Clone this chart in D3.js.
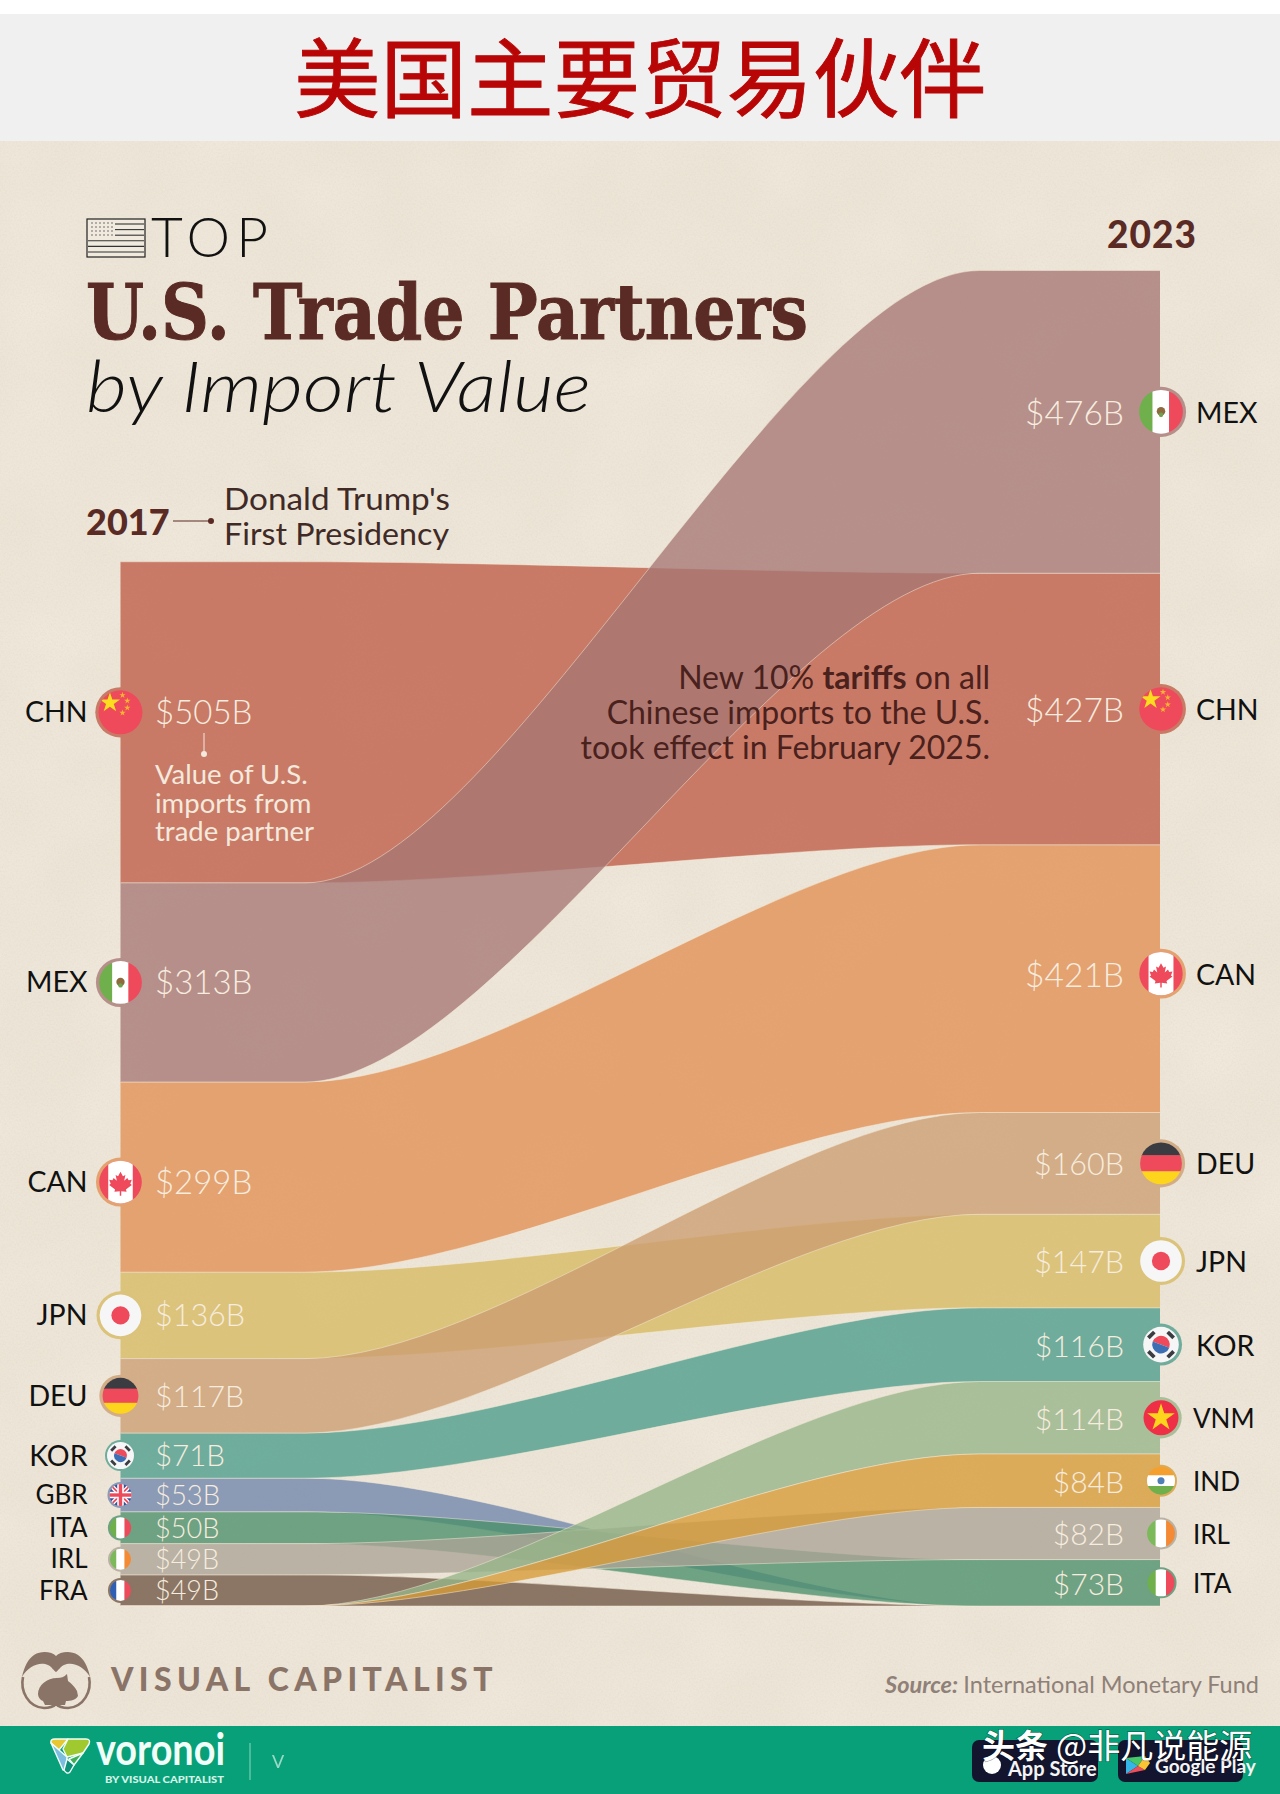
<!DOCTYPE html>
<html><head><meta charset="utf-8">
<script src="https://cdn.jsdelivr.net/npm/d3@7/dist/d3.min.js"></script>
<style>html,body{margin:0;padding:0;background:#fff}svg{display:block}text{font-family:Lato,sans-serif}</style>
</head><body><svg id="c" width="1280" height="1794" viewBox="0 0 1280 1794"></svg>
<script>
// ---- data (US$ billions) ----
const codes2017 = ["CHN","MEX","CAN","JPN","DEU","KOR","GBR","ITA","IRL","FRA","VNM","IND"];
const values2017 = [505,313,299,136,117,71,53,50,49,49,0,0];
const codes2023 = ["MEX","CHN","CAN","DEU","JPN","KOR","VNM","IND","IRL","ITA","GBR","FRA"];
const values2023 = [476,427,421,160,147,116,114,84,82,73,0,0];
const paintOrder = ["FRA","GBR","ITA","IRL","VNM","IND","KOR","JPN","DEU","CAN","CHN","MEX"];
const bandCodes = ["CHN","MEX","CAN","JPN","DEU","KOR","GBR","ITA","IRL","FRA","VNM","IND"];
const bandColors = ["#c97a66","#b68f8a","#e4a270","#dcc37b","#d3ad87","#6fac9c","#8b9ab5","#6ea282","#bab2a4","#8b7564","#a9bf99","#dcab5a"];
const titleZh = "美国主要贸易伙伴";

const svg = d3.select("#c");
const defs = svg.append("defs");
const paper = d3.rgb(236,228,214), bandAlpha = 0.78;
const colorOf = d3.scaleOrdinal(bandCodes, bandColors);
const solid = c => { const d = d3.rgb(c), f = k => (d[k]-(1-bandAlpha)*paper[k])/bandAlpha; return d3.rgb(f("r"),f("g"),f("b")).formatHex(); };

// backgrounds
svg.append("rect").attr("width",1280).attr("height",1794).attr("fill","#fff");
svg.append("rect").attr("y",14).attr("width",1280).attr("height",128).attr("fill","#f0f0f0");
svg.append("rect").attr("y",141).attr("width",1280).attr("height",1586).attr("fill",paper.formatHex());
const grain = defs.append("filter").attr("id","grain").attr("x",0).attr("y",0).attr("width","100%").attr("height","100%");
grain.append("feTurbulence").attr("type","fractalNoise").attr("baseFrequency",0.55).attr("numOctaves",3).attr("seed",7);
grain.append("feColorMatrix").attr("values","0 0 0 0 0.45  0 0 0 0 0.38  0 0 0 0 0.28  0.55 0 0 0 -0.22");
const cloud = defs.append("filter").attr("id","cloud").attr("x",0).attr("y",0).attr("width","100%").attr("height","100%");
cloud.append("feTurbulence").attr("type","fractalNoise").attr("baseFrequency",0.012).attr("numOctaves",2).attr("seed",3);
cloud.append("feColorMatrix").attr("values","0 0 0 0 1  0 0 0 0 0.98  0 0 0 0 0.92  0 1.1 0 0 -0.35");
svg.append("rect").attr("y",141).attr("width",1280).attr("height",1586).attr("filter","url(#cloud)").attr("opacity",.25);
svg.append("rect").attr("y",141).attr("width",1280).attr("height",1586).attr("filter","url(#grain)").attr("opacity",.3);

// top title
svg.append("text").attr("x",640).attr("y",111).attr("text-anchor","middle").attr("fill","#b80606").attr("stroke","#b80606").attr("stroke-width",.9)
  .style("font-family","'Noto Sans CJK SC'").style("font-weight",400).style("font-size","86.5px").text(titleZh);

// ---- scales ----
const x = d3.scaleLinear([2017,2023],[120.5,1160]);
const y = d3.scaleLinear([0,2100],[1606,270.5]);
const curveFrom = 2018.065, curveTo = 2021.96, tension = 0.28;
const stackOf = (codes, vals) => {
  const m = new Map(); let below = d3.sum(vals);
  codes.forEach((c,i)=>{ const top = below; below -= vals[i]; m.set(c,{v:vals[i],top:y(top),bot:y(below),mid:(y(top)+y(below))/2}); });
  return m;
};
const s17 = stackOf(codes2017,values2017), s23 = stackOf(codes2023,values2023);
const ctrl = () => { const x0=x(curveFrom), x1=x(curveTo), w=x1-x0; return {x0,x1,c0:x0+w*tension,c1:x1-w*tension}; };
const edge = (p,a,b,move) => {
  const {x0,x1,c0,c1}=ctrl();
  if(move) p.moveTo(x(2017),a); else p.lineTo(x(2017),a);
  p.lineTo(x0,a); p.bezierCurveTo(c0,a,c1,b,x1,b); p.lineTo(x(2023),b);
};
const edgeBack = (p,a,b) => {
  const {x0,x1,c0,c1}=ctrl();
  p.lineTo(x(2023),b); p.lineTo(x1,b); p.bezierCurveTo(c1,b,c0,a,x0,a); p.lineTo(x(2017),a);
};
const gBands = svg.append("g");
paintOrder.forEach(code=>{
  const a=s17.get(code), b=s23.get(code);
  const p=d3.path(); edge(p,a.top,b.top,true); edgeBack(p,a.bot,b.bot); p.closePath();
  gBands.append("path").attr("d",p.toString()).attr("fill",solid(colorOf(code))).attr("fill-opacity",bandAlpha);
  const t=d3.path(); edge(t,a.top,b.top,true);
  const u=d3.path(); edge(u,a.bot,b.bot,true);
  [t,u].forEach(q=>gBands.append("path").attr("d",q.toString()).attr("fill","none").attr("stroke","#f4ead8").attr("stroke-width",1).attr("stroke-opacity",.5));
});

// ---- flags (drawn in a unit circle, scaled to radius) ----
const rect=(g,x0,y0,w,h,f)=>g.append("rect").attr("x",x0).attr("y",y0).attr("width",w).attr("height",h).attr("fill",f);
const star=(g,cx,cy,size,f,rot=0)=>g.append("path").attr("d",d3.symbol(d3.symbolStar,size)()).attr("transform",`translate(${cx},${cy}) rotate(${rot})`).attr("fill",f);
const tri=(g,a,b,c)=>{rect(g,-1,-1,.72,2,a);rect(g,-.34,-1,.68,2,b);rect(g,.32,-1,.7,2,c);};
const RED="#ee4a5c",GRN="#6fb04c";
const flags={
  CHN:g=>{rect(g,-1,-1,2,2,RED);star(g,-.42,-.38,.2,"#fbdc1e");[[.08,-.68],[.27,-.46],[.27,-.18],[.08,.02]].forEach(d=>star(g,d[0],d[1],.02,"#f5b52e"));},
  MEX:g=>{tri(g,GRN,"#fff",RED);g.append("circle").attr("r",.17).attr("cy",-.02).attr("fill","#8d6b3f");g.append("circle").attr("r",.09).attr("cy",.12).attr("fill","#6fa04c");},
  CAN:g=>{rect(g,-1,-1,2,2,RED);rect(g,-.5,-1,1,2,"#fff");
    g.append("path").attr("d","M0,-.42 L.1,-.24 L.2,-.29 L.15,-.05 L.28,-.17 L.33,-.07 L.46,-.09 L.4,.07 L.46,.12 L.22,.3 L.25,.4 L.03,.37 L.03,.56 L-.03,.56 L-.03,.37 L-.25,.4 L-.22,.3 L-.46,.12 L-.4,.07 L-.46,-.09 L-.33,-.07 L-.28,-.17 L-.15,-.05 L-.2,-.29 L-.1,-.24 Z").attr("fill",RED);},
  JPN:g=>{rect(g,-1,-1,2,2,"#f6f6f6");g.append("circle").attr("r",.38).attr("fill",RED);},
  DEU:g=>{rect(g,-1,-1,2,.68,"#3b3c42");rect(g,-1,-.34,2,.68,RED);rect(g,-1,.33,2,.7,"#fcd51c");},
  KOR:g=>{rect(g,-1,-1,2,2,"#f6f6f6");
    g.append("path").attr("d","M-.42,0 A.42,.42 0 0 1 .42,0 Z").attr("fill",RED).attr("transform","rotate(20)");
    g.append("path").attr("d","M-.42,0 A.42,.42 0 0 0 .42,0 Z").attr("fill","#3d6fb5").attr("transform","rotate(20)");
    [45,135,225,315].forEach(a=>g.append("rect").attr("x",-.2).attr("y",-.74).attr("width",.4).attr("height",.18).attr("fill","#3b3c42").attr("transform",`rotate(${a})`));},
  GBR:g=>{rect(g,-1,-1,2,2,"#33509a");
    [[45,.34,"#fff"],[-45,.34,"#fff"],[45,.14,RED],[-45,.14,RED],[0,.5,"#fff"],[90,.5,"#fff"],[0,.26,RED],[90,.26,RED]].forEach(d=>g.append("rect").attr("x",-1.5).attr("y",-d[1]/2).attr("width",3).attr("height",d[1]).attr("fill",d[2]).attr("transform",`rotate(${d[0]})`));},
  ITA:g=>tri(g,GRN,"#fff",RED),
  IRL:g=>tri(g,"#7bb95a","#fff","#f58a35"),
  FRA:g=>tri(g,"#2f5fb5","#fff",RED),
  VNM:g=>{rect(g,-1,-1,2,2,"#ee2f45");star(g,0,0,.55,"#fcd51c");},
  IND:g=>{rect(g,-1,-1,2,.68,"#f5a02e");rect(g,-1,-.34,2,.68,"#fff");rect(g,-1,.33,2,.7,"#6fb04c");g.append("circle").attr("r",.22).attr("fill","#4f7fb5");}
};
const flagR=d3.scaleLinear([49,71,84,116,136,600],[12.5,15.5,16,21,24,25.5]).clamp(true);
const drawFlag=(code,v,cx,cy)=>{
  const r=flagR(v), id=`cl${code}${Math.round(cx)}`, inner=(r-(r>18?3.2:2))/r;
  defs.append("clipPath").attr("id",id).append("circle").attr("r",inner);
  const g=svg.append("g").attr("transform",`translate(${cx},${cy}) scale(${r})`);
  g.append("circle").attr("r",1).attr("fill",colorOf(code));
  flags[code](g.append("g").attr("clip-path",`url(#${id})`));
};

const valSize17=d3.scaleLinear([49,71,136,300],[27,29.5,30.5,33]).clamp(true);
const valSize23=d3.scaleLinear([73,160,421],[30,30.5,33.5]).clamp(true);
const codeSize17=d3.scaleThreshold([70],[26,28.5]);
const codeSize23=d3.scaleThreshold([115],[26,28.5]);
const fmt=v=>`$${v}B`;
const offset17={CHN:-10,CAN:5}, offset23={MEX:-10,CAN:-5};

codes2017.forEach((c,i)=>{
  const v=values2017[i]; if(!v) return;
  const cy=s17.get(c).mid+(offset17[c]||0), cx=x(2017);
  drawFlag(c,v,cx,cy);
  svg.append("text").attr("x",87.5).attr("y",cy).attr("dy",".35em").attr("text-anchor","end").attr("fill","#111").style("font-size",codeSize17(v)+"px").text(c);
  svg.append("text").attr("x",155).attr("y",cy).attr("dy",".36em").attr("fill","#f6ecdf").style("font-size",valSize17(v)+"px").style("font-weight",300).text(fmt(v));
});
codes2023.forEach((c,i)=>{
  const v=values2023[i]; if(!v) return;
  const cy=s23.get(c).mid+(offset23[c]||0), cx=x(2023)+1;
  drawFlag(c,v,cx,cy);
  svg.append("text").attr("x",v>=115?1196:1193).attr("y",cy+1).attr("dy",".35em").attr("fill","#111").style("font-size",codeSize23(v)+"px").text(c);
  svg.append("text").attr("x",1124).attr("y",cy+1).attr("dy",".36em").attr("text-anchor","end").attr("fill","#f6ecdf").style("font-size",valSize23(v)+"px").style("font-weight",300).text(fmt(v));
});

// ---- headings ----
const BROWN="#5a2a24";
const usa=svg.append("g").attr("transform","translate(87,219)");
usa.append("rect").attr("width",58).attr("height",38).attr("fill","#efe9de").attr("stroke","#222").attr("stroke-width",1.2);
d3.range(6).forEach(i=>usa.append("line").attr("x1",i<3?28:1).attr("x2",57).attr("y1",5+i*5.6).attr("y2",5+i*5.6).attr("stroke","#333").attr("stroke-width",1.1));
d3.range(4).forEach(r=>d3.range(6).forEach(c=>usa.append("circle").attr("cx",5+c*4).attr("cy",4+r*4).attr("r",.7).attr("fill","#444")));
svg.append("text").attr("x",151).attr("y",257).attr("fill","#111").style("font-weight",300).style("font-size","55px").attr("textLength",117).attr("lengthAdjust","spacing").text("TOP");
svg.append("text").attr("x",86).attr("y",339).attr("fill",BROWN).attr("stroke",BROWN).attr("stroke-width",1).style("font-family","'DejaVu Serif'").style("font-weight",700).style("font-size","76px")
  .attr("textLength",722).attr("lengthAdjust","spacingAndGlyphs").text("U.S. Trade Partners");
svg.append("text").attr("x",86).attr("y",412).attr("fill","#111").style("font-weight",300).style("font-style","italic").style("font-size","72px").attr("textLength",505).attr("lengthAdjust","spacingAndGlyphs").text("by Import Value");

svg.append("text").attr("x",86).attr("y",535).attr("fill",BROWN).style("font-weight",900).style("font-size","36px").text("2017");
svg.append("line").attr("x1",173).attr("x2",212).attr("y1",521).attr("y2",521).attr("stroke",BROWN).attr("stroke-width",1);
svg.append("circle").attr("cx",211).attr("cy",521).attr("r",3).attr("fill",BROWN);
[["Donald Trump's",226],["First Presidency",225]].forEach((t,i)=>svg.append("text").attr("x",224).attr("y",510+i*35).attr("fill","#3f2a26").style("font-size","30px").attr("textLength",t[1]).attr("lengthAdjust","spacingAndGlyphs").text(t[0]));
svg.append("text").attr("x",1152).attr("y",248).attr("text-anchor","middle").attr("fill",BROWN).style("font-weight",900).style("font-size","37px").style("letter-spacing","1px").text("2023");

// annotations
svg.append("line").attr("x1",204).attr("x2",204).attr("y1",733).attr("y2",754).attr("stroke","#f3e9dd").attr("stroke-width",1);
svg.append("circle").attr("cx",204).attr("cy",754).attr("r",3).attr("fill","#f3e9dd");
["Value of U.S.","imports from","trade partner"].forEach((t,i)=>svg.append("text").attr("x",155).attr("y",784+i*28.5).attr("fill","#f3e9dd").style("font-size","27.5px").text(t));
const note=svg.append("g").attr("fill","#4a211c").style("font-size","32px").attr("text-anchor","end");
const n1=note.append("text").attr("x",990).attr("y",689);
n1.append("tspan").text("New 10% ");n1.append("tspan").style("font-weight",700).text("tariffs");n1.append("tspan").text(" on all");
note.append("text").attr("x",990).attr("y",724).text("Chinese imports to the U.S.");
note.append("text").attr("x",990).attr("y",759).text("took effect in February 2025.");

// ---- foot ----
const MUTE="#8a7468";
const vc=svg.append("g").attr("transform","translate(56,1677)").attr("fill",MUTE);
vc.append("path").attr("d","M-22,-22 C-14,-27 -4,-25 0,-21 C4,-25 14,-27 22,-22 C28,-18 32,-10 34,0 C28,-11 16,-16 8,-12 C4,-10 2,-6 0,-5 C-2,-6 -4,-10 -8,-12 C-16,-16 -28,-11 -34,0 C-32,-10 -28,-18 -22,-22 Z");
vc.append("path").attr("d","M-33,0 C-36,14 -28,30 -12,31 C-6,31 -2,29 0,27 C2,29 6,31 12,31 C28,30 36,14 33,0").attr("fill","none").attr("stroke",MUTE).attr("stroke-width",2.6);
vc.append("path").attr("d","M-18,17 C-18,8 -9,1 1,1 C5,1 8,0 11,-3 L12,4 C16,7 19,10 21,14 L22,19 C20,23 15,24 10,24 L9,28 L-11,28 L-13,24 C-16,23 -18,20 -18,17 Z");
svg.append("text").attr("x",111).attr("y",1691).attr("fill",MUTE).style("font-weight",900).style("font-size","32px").style("letter-spacing","5.4px").text("VISUAL CAPITALIST");
const src=svg.append("text").attr("x",1259).attr("y",1693).attr("text-anchor","end").attr("fill","#8f8078").style("font-size","23.5px");
src.append("tspan").style("font-style","italic").style("font-weight",700).text("Source: ");
src.append("tspan").text("International Monetary Fund");

svg.append("rect").attr("y",1726).attr("width",1280).attr("height",68).attr("fill","#08a078");
const logo=svg.append("g").attr("transform","translate(50,1739)").attr("stroke","#f2fff8").attr("stroke-width",1.4).attr("stroke-linejoin","round");
[["M1,4 Q0,0 5,0 L18,0 L9,11 Z","#e8c832"],["M18,0 L36,0 Q41,0 39,5 L33,14 L17,18 L13,10 Z","#9fc92e"],["M1,4 L9,11 L17,18 L16,31 L13,31 Z","#7dbde0"],["M33,14 L24,26 L19,20 Z","#3fae5a"],["M17,20 L24,26 L20,33 Q17,36 14,31 Z","#0d8f78"]]
  .forEach(d=>logo.append("path").attr("d",d[0]).attr("fill",d[1]));
svg.append("text").attr("x",96).attr("y",1765).attr("fill","#f2fff8").style("font-weight",700).style("font-size","44px").attr("textLength",129).attr("lengthAdjust","spacingAndGlyphs").text("voronoi");
svg.append("text").attr("x",105).attr("y",1783).attr("fill","#d5f3e8").style("font-weight",900).style("font-size","9.5px").attr("textLength",119).attr("lengthAdjust","spacingAndGlyphs").text("BY VISUAL CAPITALIST");
svg.append("line").attr("x1",250).attr("x2",250).attr("y1",1743).attr("y2",1780).attr("stroke","#8fd6c0").attr("stroke-width",1);
svg.append("text").attr("x",272).attr("y",1768).attr("fill","#bfe9dc").attr("opacity",.8).style("font-size","18px").text("V");

svg.append("rect").attr("x",972).attr("y",1740).attr("width",126).attr("height",42).attr("rx",7).attr("fill","#13152e");
svg.append("rect").attr("x",1118).attr("y",1740).attr("width",125).attr("height",42).attr("rx",7).attr("fill","#13152e");
svg.append("circle").attr("cx",992).attr("cy",1765).attr("r",9).attr("fill","#fff");
svg.append("text").attr("x",1008).attr("y",1776).attr("fill","#f4f4f4").style("font-weight",700).style("font-size","20px").text("App Store");
[["M1126,1758 L1138,1766 L1126,1774 Z","#35b6e8"],["M1126,1758 L1145,1756 L1138,1766 Z","#46c76a"],["M1126,1774 L1145,1770 L1138,1766 Z","#ef4d5a"],["M1145,1756 L1150,1763 L1145,1770 L1138,1766 Z","#f7c632"]]
  .forEach(d=>svg.append("path").attr("d",d[0]).attr("fill",d[1]));
svg.append("text").attr("x",1155).attr("y",1773).attr("fill","#f4f4f4").style("font-weight",700).style("font-size","19px").text("Google Play");

const wm=svg.append("text").attr("x",982).attr("y",1758).attr("fill","#fff").style("font-family","'Noto Sans CJK SC'").style("font-size","33px")
  .attr("stroke","#000").attr("stroke-opacity",.35).attr("stroke-width",1.5).style("paint-order","stroke");
wm.append("tspan").style("font-weight",700).text("头条");
wm.append("tspan").attr("dx",8).text("@非凡说能源");
</script></body></html>
